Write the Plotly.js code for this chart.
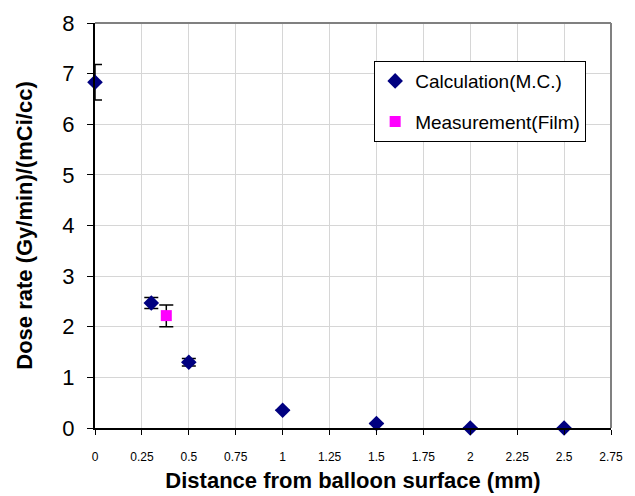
<!DOCTYPE html>
<html>
<head>
<meta charset="utf-8">
<script src="https://cdn.plot.ly/plotly-3.0.1.min.js"></script>
<style>html,body{margin:0;padding:0;background:#fff;}#chart{width:635px;height:496px;}</style>
</head>
<body>
<div id="chart"></div>
<script>
// Data
const calcX = [0, 0.3, 0.5, 1.0, 1.5, 2.0, 2.5];
const calcY = [6.83, 2.47, 1.3, 0.35, 0.09, 0.0, 0.0];
const calcErr = [0.35, 0.11, 0.075, 0, 0, 0, 0];
const measX = [0.38];
const measY = [2.22];
const measErrPlus = [0.21];
const measErrMinus = [0.22];
const xTickVals = [0, 0.25, 0.5, 0.75, 1, 1.25, 1.5, 1.75, 2, 2.25, 2.5, 2.75];
const xTickText = ['0', '0.25', '0.5', '0.75', '1', '1.25', '1.5', '1.75', '2', '2.25', '2.5', '2.75'];
const yTickVals = [0, 1, 2, 3, 4, 5, 6, 7, 8];

const font = 'Arial, "Liberation Sans", sans-serif';

const traces = [
  {
    x: calcX, y: calcY, type: 'scatter', mode: 'markers',
    name: 'Calculation(M.C.)', legendgroup: 'a',
    marker: {symbol: 'diamond', size: 12, color: '#000080'},
    error_y: {type: 'data', array: calcErr, visible: true, color: '#000000', thickness: 1.5, width: 7},
    cliponaxis: false
  },
  {
    x: measX, y: measY, type: 'scatter', mode: 'markers',
    name: 'Measurement(Film)', legendgroup: 'b',
    marker: {symbol: 'square', size: 11, color: '#FF00FF'},
    error_y: {type: 'data', symmetric: false, array: measErrPlus, arrayminus: measErrMinus, visible: true, color: '#000000', thickness: 1.5, width: 7},
    cliponaxis: false
  }
];

const layout = {
  width: 635, height: 496,
  margin: {l: 95, r: 24, t: 23, b: 68},
  paper_bgcolor: '#ffffff', plot_bgcolor: '#ffffff',
  font: {family: font, color: '#000000'},
  showlegend: true,
  legend: {
    x: 0.541, y: 0.906, xanchor: 'left', yanchor: 'top',
    bordercolor: '#000000', borderwidth: 1, bgcolor: '#ffffff',
    font: {family: font, size: 19, color: '#000000'},
    traceorder: 'grouped', tracegroupgap: 13, itemwidth: 30
  },
  xaxis: {
    range: [0, 2.75], tickmode: 'array', tickvals: xTickVals, ticktext: xTickText,
    showgrid: true, gridcolor: '#d6d6d6', gridwidth: 1,
    zeroline: false, showline: true, linecolor: '#000000', linewidth: 2,
    ticks: 'outside', ticklen: 5, tickcolor: '#000000', tickwidth: 1,
    ticklabelstandoff: 12,
    tickfont: {family: font, size: 12, color: '#000000'},
    title: {text: 'Distance from balloon surface (mm)', font: {family: font, size: 22, color: '#000000', weight: 'bold'}, standoff: 9}
  },
  yaxis: {
    range: [0, 8], tickmode: 'array', tickvals: yTickVals,
    showgrid: true, gridcolor: '#d6d6d6', gridwidth: 1,
    zeroline: false, showline: true, linecolor: '#000000', linewidth: 2,
    ticks: 'outside', ticklen: 6, tickcolor: '#000000', tickwidth: 1,
    ticklabelstandoff: 8,
    tickfont: {family: font, size: 22, color: '#000000'},
    title: {text: 'Dose rate (Gy/min)/(mCi/cc)', font: {family: font, size: 22, color: '#000000', weight: 'bold'}, standoff: 24}
  },
  shapes: [
    {type: 'line', xref: 'paper', yref: 'paper', x0: 0, x1: 1, y0: 1, y1: 1, line: {color: '#808080', width: 2}},
    {type: 'line', xref: 'paper', yref: 'paper', x0: 1, x1: 1, y0: 0, y1: 1, line: {color: '#808080', width: 2}}
  ]
};

Plotly.newPlot('chart', traces, layout, {displayModeBar: false, staticPlot: true});
</script>
</body>
</html>
